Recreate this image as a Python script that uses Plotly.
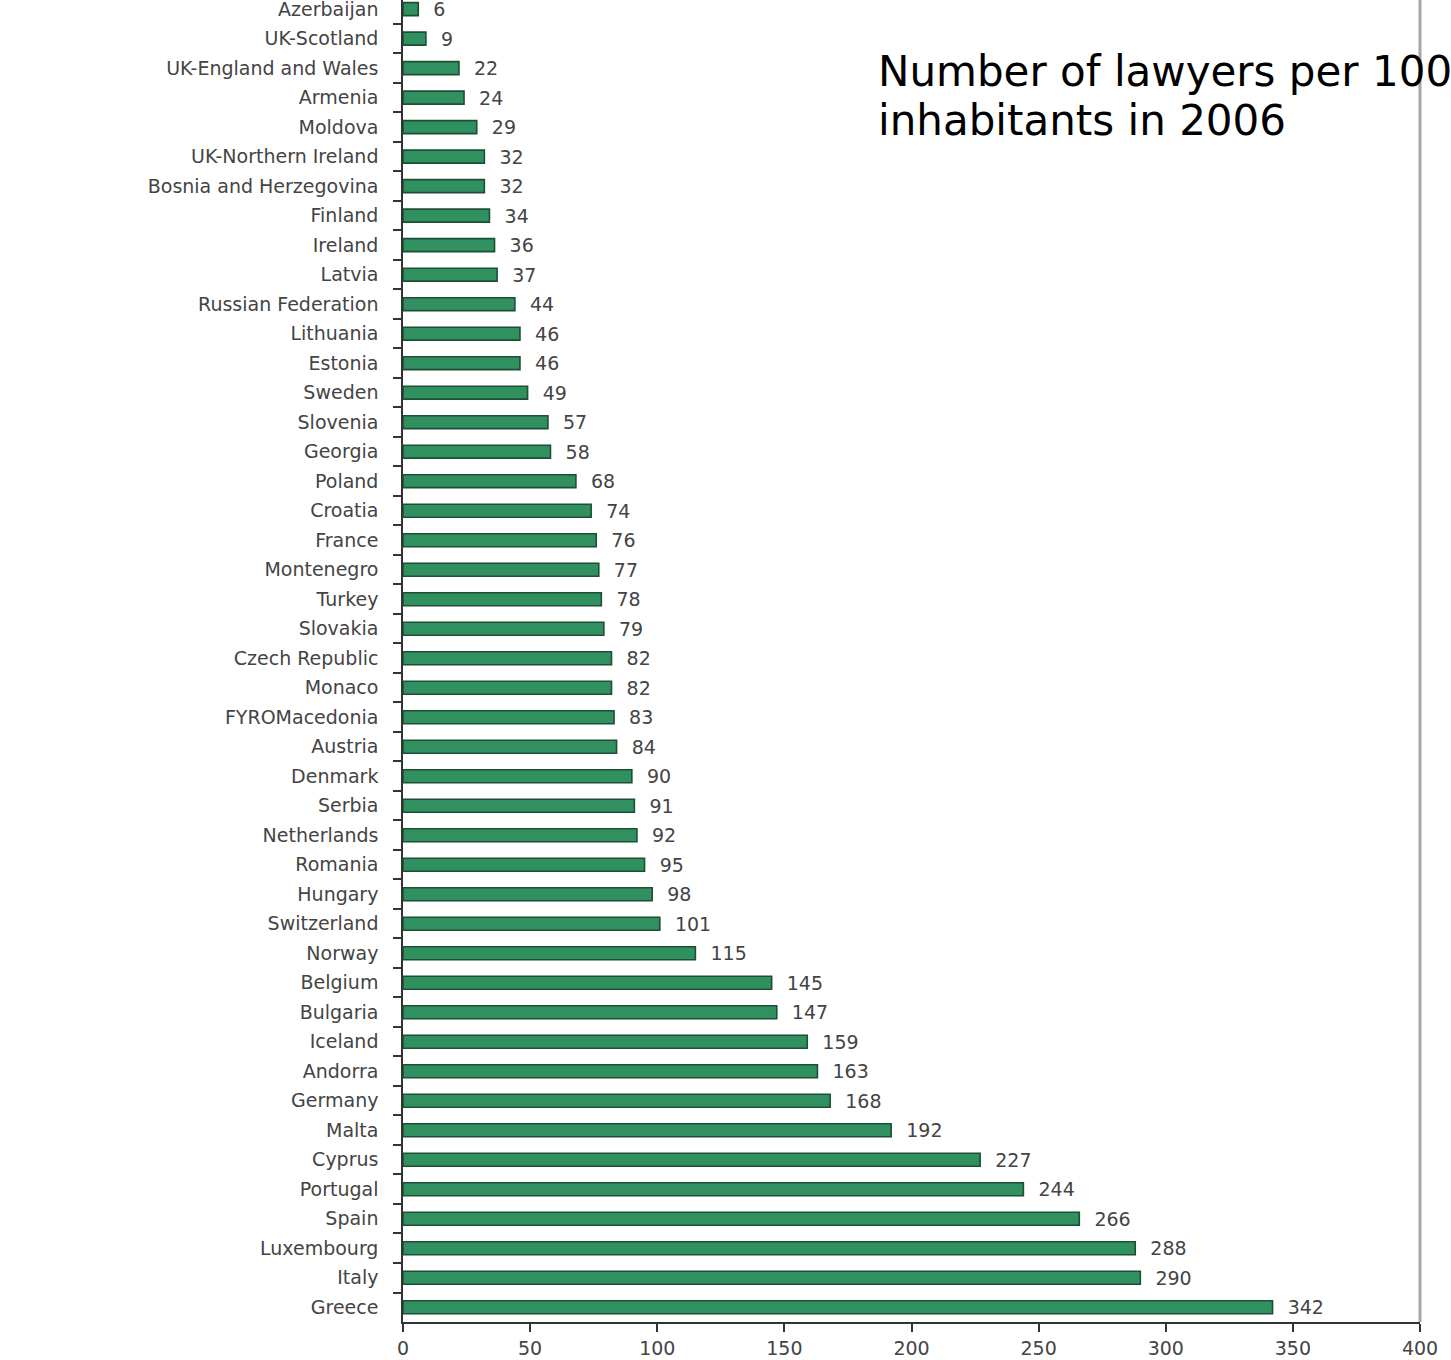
import plotly.graph_objects as go

countries = ["Azerbaijan", "UK-Scotland", "UK-England and Wales", "Armenia", "Moldova",
             "UK-Northern Ireland", "Bosnia and Herzegovina", "Finland", "Ireland", "Latvia",
             "Russian Federation", "Lithuania", "Estonia", "Sweden", "Slovenia", "Georgia",
             "Poland", "Croatia", "France", "Montenegro", "Turkey", "Slovakia",
             "Czech Republic", "Monaco", "FYROMacedonia", "Austria", "Denmark", "Serbia",
             "Netherlands", "Romania", "Hungary", "Switzerland", "Norway", "Belgium",
             "Bulgaria", "Iceland", "Andorra", "Germany", "Malta", "Cyprus", "Portugal",
             "Spain", "Luxembourg", "Italy", "Greece"]
lawyers = [6, 9, 22, 24, 29, 32, 32, 34, 36, 37, 44, 46, 46, 49, 57, 58, 68, 74, 76, 77,
           78, 79, 82, 82, 83, 84, 90, 91, 92, 95, 98, 101, 115, 145, 147, 159, 163, 168,
           192, 227, 244, 266, 288, 290, 342]
x_ticks = [0, 50, 100, 150, 200, 250, 300, 350, 400]
title_lines = ["Number of lawyers per 100 000", "inhabitants in 2006"]

fig = go.Figure()
fig.add_trace(go.Bar(
    y=countries, x=lawyers, orientation="h",
    marker=dict(color="#31905f", line=dict(color="#1c4f33", width=1.6)),
    width=0.44,
    text=lawyers, texttemplate="  %{x}", textposition="outside",
    constraintext="none",
    textfont=dict(family="DejaVu Sans", size=19, color="#444444"),
    cliponaxis=False,
))

fig.update_layout(
    width=1451, height=1360,
    margin=dict(l=403, r=31, t=0, b=38),
    paper_bgcolor="white", plot_bgcolor="white",
    showlegend=False,
    font=dict(family="DejaVu Sans", color="#444444"),
    xaxis=dict(
        range=[0, 400], tickvals=x_ticks, ticktext=[str(v) for v in x_ticks],
        showgrid=False, zeroline=False, automargin=False,
        showline=True, linecolor="#333333", linewidth=1.5,
        ticks="outside", ticklen=8, tickcolor="#333333", tickwidth=1.5,
        tickfont=dict(family="DejaVu Sans", size=19, color="#444444"),
    ),
    yaxis=dict(
        type="category", categoryorder="array", categoryarray=countries,
        range=[44.5, -0.31], automargin=False,
        showgrid=False, zeroline=False,
        showline=True, linecolor="#333333", linewidth=1.5,
        ticks="outside", ticklen=8, tickcolor="#333333", tickwidth=1.5,
        tickson="boundaries", ticklabelstandoff=19,
        tickfont=dict(family="DejaVu Sans", size=19, color="#444444"),
    ),
    bargap=0.55,
)

# right border line
fig.add_shape(type="line", xref="paper", yref="paper", x0=1, x1=1, y0=0, y1=1.0,
              line=dict(color="#a8a8a8", width=3))

fig.add_annotation(text=title_lines[0], xref="paper", yref="paper",
                   x=(876 - 403) / 1017, y=1 - 45 / 1322, xanchor="left", yanchor="top",
                   showarrow=False, font=dict(family="DejaVu Sans", size=42, color="black"))
fig.add_annotation(text=title_lines[1], xref="paper", yref="paper",
                   x=(876 - 403) / 1017, y=1 - 94 / 1322, xanchor="left", yanchor="top",
                   showarrow=False, font=dict(family="DejaVu Sans", size=42, color="black"))

fig.write_html("out.html", config={"displayModeBar": False},
               post_script="document.body.style.margin='0';document.body.style.overflow='hidden';")
